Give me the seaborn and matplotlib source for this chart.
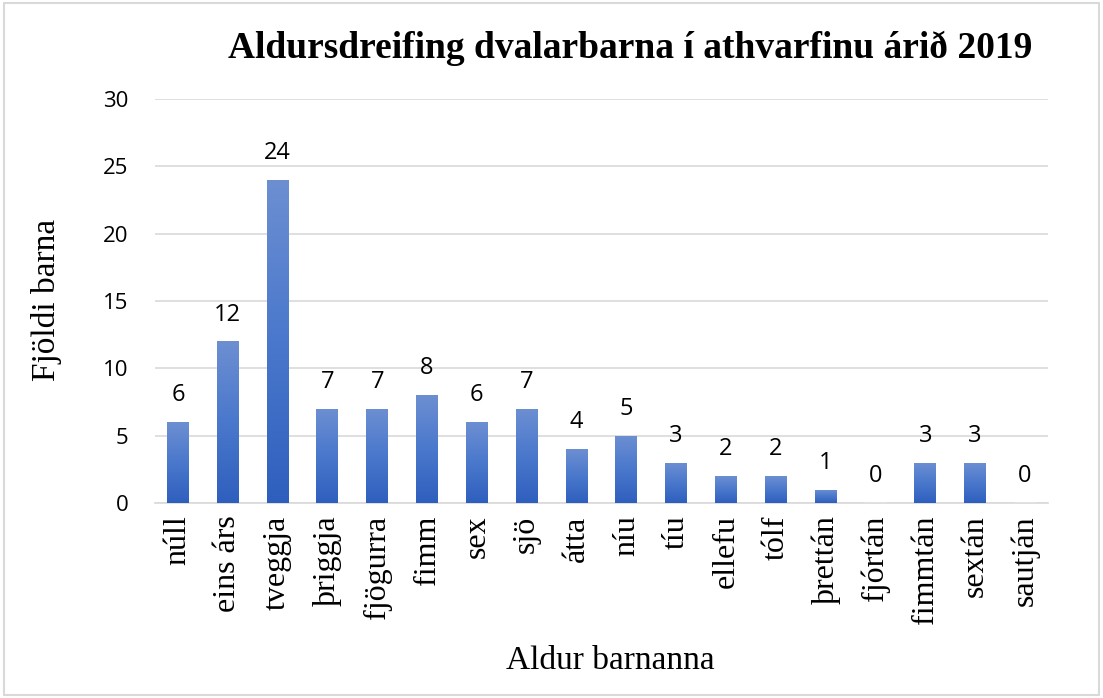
import numpy as np
import pandas as pd
import matplotlib
matplotlib.use("Agg")
import matplotlib.pyplot as plt
import seaborn as sns
from matplotlib.colors import LinearSegmentedColormap
from matplotlib.patches import Rectangle

# Data
ages = ["núll", "eins árs", "tveggja", "þriggja", "fjögurra", "fimm", "sex", "sjö",
        "átta", "níu", "tíu", "ellefu", "tólf", "þrettán", "fjórtán", "fimmtán",
        "sextán", "sautján"]
counts = [6, 12, 24, 7, 7, 8, 6, 7, 4, 5, 3, 2, 2, 1, 0, 3, 3, 0]

df = pd.DataFrame({"age": ages, "count": counts})

sns.set_theme(style="white")
plt.rcParams["text.color"] = "black"
plt.rcParams["xtick.color"] = "black"
plt.rcParams["ytick.color"] = "black"
serif = ["Liberation Serif", "DejaVu Serif"]
sans = ["Open Sans", "DejaVu Sans"]

fig = plt.figure(figsize=(11.03, 6.98), dpi=100)
ax = fig.add_axes([0.1405, 0.2794, 0.8095, 0.5786])

sns.barplot(data=df, x="age", y="count", color="#4472c4", width=0.44,
            saturation=1, ax=ax, zorder=3)

# gradient fill on each bar (lighter top, darker bottom)
cmap = LinearSegmentedColormap.from_list("bar", ["#2f5fbe", "#4a78cc", "#6d8fd2"])
grad = np.linspace(0, 1, 256).reshape(-1, 1)
for p in ax.patches:
    h = p.get_height()
    if h <= 0:
        continue
    x0 = p.get_x()
    w = p.get_width()
    im = ax.imshow(grad, cmap=cmap, aspect="auto", origin="lower",
                   extent=[x0, x0 + w, 0, h], zorder=4)
    im.set_clip_path(p)
    p.set_edgecolor("none")

for i, v in enumerate(counts):
    ax.text(i, v + 1.1, str(v), ha="center", va="bottom", fontsize=17,
            family=sans, color="black")

ax.set_xlim(-0.46, 17.46)
ax.set_ylim(0, 30)
ax.set_yticks(range(0, 31, 5))
ax.yaxis.grid(True, color="#d9d9d9", linewidth=1.2, zorder=0)
ax.set_axisbelow(True)
for s in ["top", "right", "left"]:
    ax.spines[s].set_visible(False)
ax.spines["bottom"].set_color("#d9d9d9")
ax.spines["bottom"].set_linewidth(1.2)
ax.tick_params(axis="both", length=0)
ax.tick_params(axis="y", pad=19)
ax.tick_params(axis="x", pad=9)

for lab in ax.get_yticklabels():
    lab.set_family(sans)
    lab.set_fontsize(16)
for lab in ax.get_xticklabels():
    lab.set_family(serif)
    lab.set_fontsize(23)
    lab.set_rotation(90)

ax.set_xlabel("")
ax.set_ylabel("")
fig.text(0.571, 0.931, "Aldursdreifing dvalarbarna í athvarfinu árið 2019",
         ha="center", va="center", fontsize=27, fontweight="bold", family=serif)
fig.text(0.042, 0.57, "Fjöldi barna", rotation=90, ha="center", va="center",
         fontsize=24, family=serif)
fig.text(0.553, 0.054, "Aldur barnanna", ha="center", va="center",
         fontsize=24, family=serif)

# light border around the chart
fig.add_artist(Rectangle((0.004, 0.004), 0.992, 0.992, transform=fig.transFigure,
                         fill=False, edgecolor="#d9d9d9", linewidth=1.5))

fig.savefig("out.png", dpi=100)
